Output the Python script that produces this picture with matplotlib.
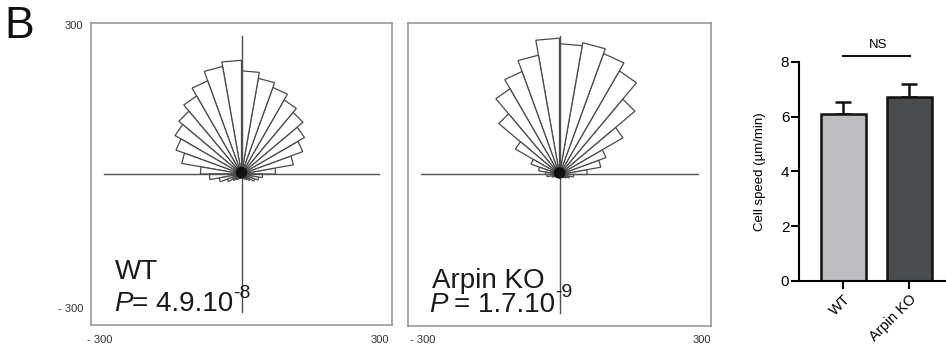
import numpy as np
import matplotlib
matplotlib.use('Agg')
from matplotlib import pyplot as plt
from matplotlib.patches import Polygon, Circle

plt.rcParams['font.family'] = ['Liberation Sans', 'DejaVu Sans']

# Rose plots: 10 degree bins, counter-clockwise from east
bin_starts = list(range(0, 360, 10))
bin_width = 10

wt_radii = [68, 105, 130, 145, 160, 170, 183, 193, 205,
            226, 217, 197, 179, 163, 153, 139, 121, 82,
            64, 45, 30, 20, 15, 12, 10, 9, 8, 8, 9, 10, 12, 15, 20, 28, 35, 42]
ko_radii = [55, 83, 98, 145, 195, 237, 255, 265, 259,
            270, 240, 217, 196, 157, 101, 60, 42, 28,
            25, 15, 10, 8, 7, 6, 6, 5, 5, 5, 5, 6, 7, 8, 10, 14, 20, 28]

# Cell speed bar chart
groups = ['WT', 'Arpin KO']
speed_mean = [6.08, 6.73]
speed_sem = [0.45, 0.46]
bar_colors = ['#bdbdc0', '#4b4c4e']

W, H = 946, 350
fig = plt.figure(figsize=(W / 100, H / 100), dpi=100)


def px(x, y):
    # pixel position -> figure fraction
    return x / W, 1 - y / H


def rose(ax, radii):
    ax.set_xlim(-300, 300)
    ax.set_ylim(-300, 300)
    for start, r in zip(bin_starts, radii):
        a1 = np.deg2rad(start)
        a2 = np.deg2rad(start + bin_width)
        pts = [(0, 0), (r * np.cos(a1), r * np.sin(a1)), (r * np.cos(a2), r * np.sin(a2))]
        ax.add_patch(Polygon(pts, closed=True, facecolor='white', edgecolor='#4a4a4a',
                             lw=0.9, zorder=2))
    ax.plot([-275, 275], [0, 0], color='#505050', lw=1, zorder=3)
    ax.plot([0, 0], [-275, 275], color='#505050', lw=1, zorder=3)
    # dark knot where all wedge edges meet
    ax.add_patch(Circle((0, 3), 10, color='#111111', zorder=4))
    ax.set_xticks([])
    ax.set_yticks([])
    for s in ax.spines.values():
        s.set_color('#919191')
        s.set_linewidth(1.1)


ax1 = fig.add_axes([91 / W, 1 - 325 / H, 301 / W, 302 / H])
rose(ax1, wt_radii)
ax1.text(-252, -208, 'WT', fontsize=20, color='#1a1a1a')
ax1.text(-254, -272, 'P', fontsize=20, style='italic', color='#1a1a1a')
ax1.text(-16, -272, '= 4.9.10', fontsize=20, color='#1a1a1a', ha='right')
ax1.text(-16, -246, '-8', fontsize=14, color='#1a1a1a')

ax2 = fig.add_axes([408 / W, 1 - 326 / H, 303 / W, 303 / H])
rose(ax2, ko_radii)
ax2.text(-253, -225, 'Arpin KO', fontsize=20, color='#1a1a1a')
ax2.text(-259, -272, 'P', fontsize=20, style='italic', color='#1a1a1a')
ax2.text(-9, -272, '= 1.7.10', fontsize=20, color='#1a1a1a', ha='right')
ax2.text(-9, -242, '-9', fontsize=14, color='#1a1a1a')

# rose axis labels
lab = dict(fontsize=8, color='#333333', va='center')
fig.text(*px(83, 26), '300', ha='right', **lab)
fig.text(*px(83, 309), '- 300', ha='right', **lab)
fig.text(*px(87, 340), '- 300', ha='left', **lab)
fig.text(*px(389, 340), '300', ha='right', **lab)
fig.text(*px(410, 340), '- 300', ha='left', **lab)
fig.text(*px(711, 340), '300', ha='right', **lab)

fig.text(*px(4, 38), 'B', fontsize=32, color='#111111', va='baseline')

# bar chart
ax3 = fig.add_axes([799 / W, 1 - 281 / H, 147 / W, 219.3 / H])
x = np.arange(len(groups))
ax3.bar(x, speed_mean, width=0.675, color=bar_colors, edgecolor='#111111', linewidth=1.8,
        zorder=2)
ax3.errorbar(x, speed_mean, yerr=[[0, 0], speed_sem], fmt='none', ecolor='#111111',
             elinewidth=1.8, capsize=5.5, capthick=1.8, zorder=1)
ax3.set_xlim(-0.673, 1.555)
ax3.set_ylim(0, 8)
ax3.set_yticks([0, 2, 4, 6, 8])
ax3.set_xticks(x)
ax3.set_xticklabels(groups, rotation=45, ha='right', rotation_mode='anchor', fontsize=10.5)
ax3.tick_params(axis='y', labelsize=11, length=6, width=1.5, pad=1)
ax3.tick_params(axis='x', length=6, width=1.5, pad=2)
ax3.spines['top'].set_visible(False)
ax3.spines['right'].set_visible(False)
ax3.spines['left'].set_linewidth(1.5)
ax3.spines['bottom'].set_linewidth(1.5)
ax3.set_ylabel('Cell speed (µm/min)', fontsize=9.5, labelpad=11)
ax3.plot([-0.01, 1.01], [8.2, 8.2], color='#111111', lw=1.5, clip_on=False)
ax3.text(0.52, 8.38, 'NS', ha='center', va='bottom', fontsize=9.5)

fig.savefig('out.png', dpi=100)
